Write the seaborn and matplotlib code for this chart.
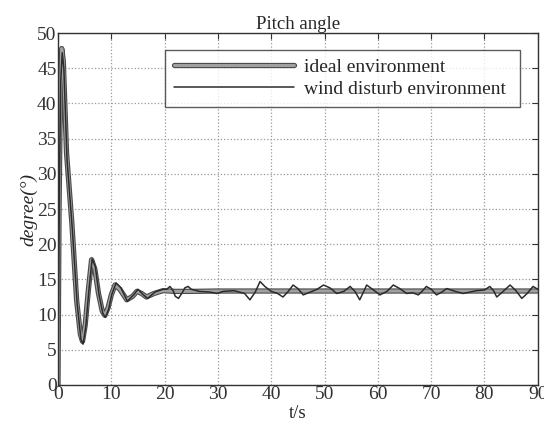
import numpy as np
import pandas as pd
import matplotlib
matplotlib.use("Agg")
import matplotlib.pyplot as plt
import matplotlib.patheffects as pe
import seaborn as sns

# ── Data ───────────────────────────────────────────────────────────────────
t_ideal = [0, 0.2, 0.45, 0.7, 1.0, 1.6, 2.6, 3.5, 4.2, 4.6, 5.1, 5.7, 6.3,
           6.9, 7.6, 8.3, 8.8, 9.4, 10.0, 10.7, 11.6, 12.9, 14.0, 14.8,
           15.7, 16.6, 18.0, 19.7, 22.0, 25.0, 30.0, 90.0]
y_ideal = [0, 25, 42, 47.8, 46, 33, 23, 12, 7.2, 6.2, 8.5, 13.5, 17.8,
           16.5, 13.0, 10.5, 9.9, 11.0, 12.8, 14.2, 13.6, 12.1, 12.6, 13.3,
           13.0, 12.5, 13.0, 13.4, 13.3, 13.3, 13.35, 13.35]

t_wind = [0, 0.25, 0.5, 0.8, 1.1, 1.7, 2.7, 3.6, 4.3, 4.7, 5.2, 5.8, 6.4,
          7.0, 7.7, 8.4, 8.9, 9.5, 10.1, 10.9, 11.8, 13.0, 14.2, 15.0,
          15.9, 16.8, 18.2, 19.7,
          20.4, 21.0, 21.6, 22.0, 22.6, 23.3, 23.8, 24.4, 25.0, 26.5,
          28.5, 29.8, 31.0, 33.0, 35.0, 36.0, 37.0, 37.9, 38.8, 40.0, 41.2,
          42.2, 43.2, 44.1, 45.0, 46.0, 47.0, 48.6, 49.8, 51.0, 52.3, 53.6,
          54.8, 55.7, 56.6, 57.3, 57.9, 59.0, 60.4, 61.7, 62.9, 64.1, 65.4,
          66.5, 67.6, 68.4, 69.1, 70.0, 71.0, 72.0, 72.9, 74.5, 76.0, 78.5,
          80.0, 81.0, 81.7, 82.3, 83.5, 84.8, 85.9, 87.0, 88.0, 89.1, 90.0]
y_wind = [0, 27, 43, 47.2, 45, 32, 22, 11.5, 6.5, 5.8, 8.2, 13.5, 17.9,
          16.8, 12.8, 10.2, 9.6, 10.8, 12.9, 14.5, 13.8, 11.9, 12.8, 13.6,
          12.9, 12.3, 13.2, 13.6,
          13.6, 14.0, 13.4, 12.6, 12.3, 13.1, 13.8, 14.0, 13.6, 13.3,
          13.2, 13.0, 13.3, 13.4, 13.0, 12.1, 13.2, 14.7, 14.0, 13.3, 13.0,
          12.5, 13.3, 14.2, 13.7, 12.8, 13.1, 13.6, 14.2, 13.8, 13.0, 13.3,
          14.0, 13.3, 12.1, 13.2, 14.2, 13.6, 12.8, 13.3, 14.2, 13.7, 13.0,
          13.1, 12.8, 13.4, 14.0, 13.6, 12.8, 13.2, 13.7, 13.3, 13.0, 13.4,
          13.5, 14.0, 13.4, 12.5, 13.3, 14.2, 13.4, 12.3, 13.0, 14.0, 13.6]

x_ticks = [0, 10, 20, 30, 40, 50, 60, 70, 80, 90]
y_ticks = [0, 5, 10, 15, 20, 25, 30, 35, 40, 45, 50]

ideal = pd.DataFrame({"t": t_ideal, "deg": y_ideal})
wind = pd.DataFrame({"t": t_wind, "deg": y_wind})

# ── Style ──────────────────────────────────────────────────────────────────
sns.set_style("white")
plt.rcParams["font.family"] = ["Liberation Serif", "DejaVu Serif"]

fig = plt.figure(figsize=(5.44, 4.22), dpi=100)
ax = fig.add_axes([0.1066, 0.0877, 0.882, 0.834])

sns.lineplot(data=ideal, x="t", y="deg", ax=ax, color="#a0a0a0", lw=2.2,
             label="ideal environment", sort=False,
             path_effects=[pe.Stroke(linewidth=3.8, foreground="#4a4a4a"),
                           pe.Normal()])
sns.lineplot(data=wind, x="t", y="deg", ax=ax, color="#2b2b2b", lw=1.1,
             label="wind disturb environment", sort=False)

ax.set_xlim(0, 90)
ax.set_ylim(0, 50)
ax.set_xticks(x_ticks)
ax.set_yticks(y_ticks)
ax.tick_params(direction="in", top=True, right=True, length=4,
               labelsize=14, pad=1, colors="#333")
ax.grid(True, linestyle=":", color="#999", lw=0.9)
for s in ax.spines.values():
    s.set_color("#333")
    s.set_linewidth(1.0)

ax.set_title("Pitch angle", fontsize=13.5, pad=3)
ax.set_xlabel("t/s", fontsize=13.5, labelpad=1)
ax.set_ylabel("degree(°)", fontsize=14, labelpad=0, style="italic")

leg = ax.legend(loc="upper left", bbox_to_anchor=(0.223, 0.781, 0.74, 0.171),
                mode="expand", fontsize=14, frameon=True, fancybox=False,
                handlelength=6.2, handletextpad=0.5, borderpad=0.45,
                labelspacing=0.2, borderaxespad=0)
leg.get_frame().set_edgecolor("#333")
leg.get_frame().set_linewidth(1.0)

fig.savefig("out.png", dpi=100)
